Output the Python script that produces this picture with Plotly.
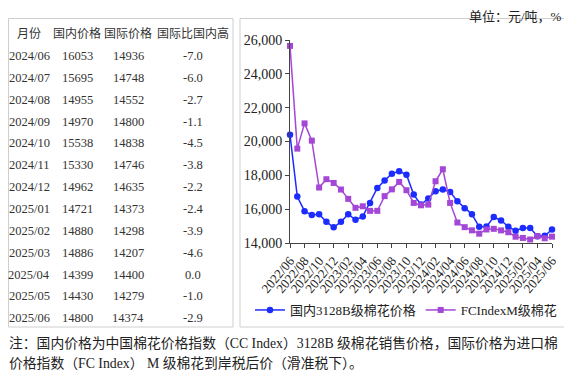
import plotly.graph_objects as go

# the page body has an 8px margin, so the figure is drawn 8px right/down
OFF = 8
W, H = 572 - OFF, 370 - OFF

months = [
    "2022/06", "2022/07", "2022/08", "2022/09", "2022/10", "2022/11", "2022/12",
    "2023/01", "2023/02", "2023/03", "2023/04", "2023/05", "2023/06", "2023/07",
    "2023/08", "2023/09", "2023/10", "2023/11", "2023/12", "2024/01", "2024/02",
    "2024/03", "2024/04", "2024/05", "2024/06", "2024/07", "2024/08", "2024/09",
    "2024/10", "2024/11", "2024/12", "2025/01", "2025/02", "2025/03", "2025/04",
    "2025/05", "2025/06",
]

domestic = [
    20400, 16750, 15880, 15650, 15700, 15250, 14930, 15250, 15700, 15370,
    15570, 16370, 17250, 17700, 18100, 18240, 18040, 16860, 16270, 16630,
    17060, 17160, 17020, 16470,
    16053, 15695, 14955, 14970, 15538, 15330, 14962, 14721, 14880, 14886,
    14399, 14430, 14800,
]

international = [
    25650, 19580, 21070, 20050, 17280, 17770, 17550, 17160, 16610, 16080,
    16170, 15900, 15900, 16770, 17170, 17610, 17120, 16370, 16230, 16270,
    17650, 18360, 16370, 15210,
    14936, 14748, 14552, 14800, 14838, 14746, 14635, 14373, 14298, 14207,
    14400, 14279, 14374,
]

# table content
table_header = ["月份", "国内价格", "国际价格", "国际比国内高"]
table_months = ["2024/06", "2024/07", "2024/08", "2024/09", "2024/10", "2024/11",
                "2024/12", "2025/01", "2025/02", "2025/03", "2025/04", "2025/05",
                "2025/06"]
table_domestic = ["16053", "15695", "14955", "14970", "15538", "15330", "14962",
                  "14721", "14880", "14886", "14399", "14430", "14800"]
table_intl = ["14936", "14748", "14552", "14800", "14838", "14746", "14635",
              "14373", "14298", "14207", "14400", "14279", "14374"]
table_diff = ["-7.0", "-6.0", "-2.7", "-1.1", "-4.5", "-3.8", "-2.2", "-2.4",
              "-3.9", "-4.6", "0.0", "-1.0", "-2.9"]

tick_months = months[::2]

unit_text = "单位：元/吨，%"
note_line1 = "注：国内价格为中国棉花价格指数（CC Index）3128B 级棉花销售价格，国际价格为进口棉"
note_line2 = "价格指数（FC Index） M 级棉花到岸税后价（滑准税下）。"

series_names = ["国内3128B级棉花价格", "FCIndexM级棉花"]
BLUE = "#1c2cff"
PURPLE = "#a446d6"

SERIF = "Liberation Serif, Noto Sans CJK SC"
CJK = "Noto Sans CJK SC, Liberation Serif"


def px(x):
    return (x - OFF) / W


def py(y):
    return 1 - (y - OFF) / H


fig = go.Figure()
fig.add_trace(go.Scatter(
    x=months, y=domestic, name=series_names[0], mode="lines+markers",
    line=dict(color=BLUE, width=1.5),
    marker=dict(symbol="circle", size=6.5, color=BLUE),
    cliponaxis=False,
))
fig.add_trace(go.Scatter(
    x=months, y=international, name=series_names[1], mode="lines+markers",
    line=dict(color=PURPLE, width=1.5),
    marker=dict(symbol="square", size=6, color=PURPLE),
    cliponaxis=False,
))

annotations = []
col_x = [29, 77, 128, 193]
header_y = 33
row0_y = 56
row_dy = 21.85
for cx, htxt in zip(col_x, table_header):
    annotations.append(dict(x=px(cx), y=py(header_y), xref="paper", yref="paper",
                            text=htxt, showarrow=False, xanchor="center", yanchor="middle",
                            font=dict(family=CJK, size=12, color="#333333")))
for i in range(len(table_months)):
    yy = row0_y + i * row_dy
    for cx, txt in zip(col_x, [table_months[i], table_domestic[i], table_intl[i], table_diff[i]]):
        annotations.append(dict(x=px(cx), y=py(yy), xref="paper", yref="paper",
                                text=txt, showarrow=False, xanchor="center", yanchor="middle",
                                font=dict(family=SERIF, size=12.5, color="#333333")))

annotations.append(dict(x=px(563), y=py(8), xref="paper", yref="paper", text=unit_text,
                        showarrow=False, xanchor="right", yanchor="top", borderpad=0,
                        font=dict(family=SERIF, size=13, color="#222222")))
annotations.append(dict(x=px(7), y=py(343), xref="paper", yref="paper", text=note_line1,
                        showarrow=False, xanchor="left", yanchor="middle",
                        font=dict(family=SERIF, size=13.8, color="#222222")))
annotations.append(dict(x=px(7), y=py(363), xref="paper", yref="paper", text=note_line2,
                        showarrow=False, xanchor="left", yanchor="middle",
                        font=dict(family=SERIF, size=13.8, color="#222222")))

shapes = [
    dict(type="rect", xref="paper", yref="paper", x0=px(8.5), x1=px(233), y0=py(327), y1=py(18.5),
         line=dict(color="#cfcfcf", width=1)),
    dict(type="rect", xref="paper", yref="paper", x0=px(240), x1=px(570), y0=py(327), y1=py(18.5),
         line=dict(color="#cfcfcf", width=1)),
]

fig.update_layout(
    width=W, height=H,
    margin=dict(l=0, r=0, t=0, b=0, autoexpand=False),
    paper_bgcolor="white", plot_bgcolor="white",
    showlegend=True,
    legend=dict(orientation="h", x=px(250), y=py(310), xanchor="left", yanchor="middle",
                font=dict(family=SERIF, size=13, color="#222222"),
                bgcolor="rgba(0,0,0,0)", itemwidth=30, tracegroupgap=0),
    annotations=annotations,
    shapes=shapes,
    xaxis=dict(domain=[px(290), px(552)], type="category", range=[0, 36],
               tickmode="array", tickvals=tick_months, ticktext=tick_months,
               tickangle=-50, ticks="outside", ticklen=4, tickcolor="#444444",
               showline=True, linecolor="#444444", linewidth=1, showgrid=False,
               automargin=False,
               tickfont=dict(family=SERIF, size=13, color="#222222"), zeroline=False),
    yaxis=dict(domain=[py(243), py(40)], range=[14000, 26000], dtick=2000,
               tickformat=",d", ticks="outside", ticklen=4, tickcolor="#444444",
               showline=True, linecolor="#444444", linewidth=1, showgrid=False,
               automargin=False,
               tickfont=dict(family=SERIF, size=14, color="#222222"), zeroline=False),
)

fig.write_html("out.html")
